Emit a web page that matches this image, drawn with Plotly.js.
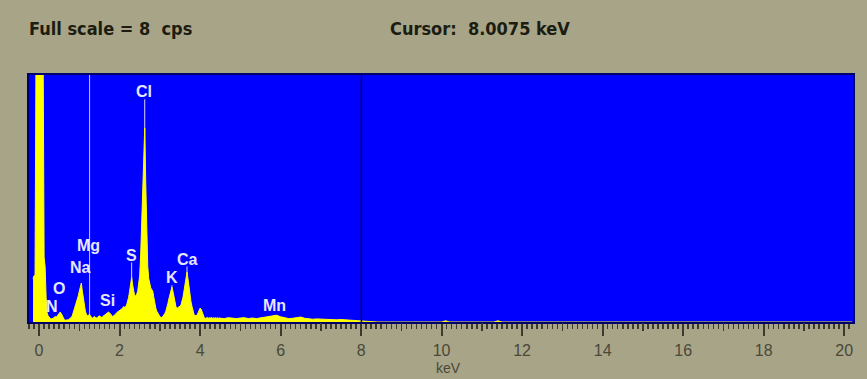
<!DOCTYPE html>
<html>
<head>
<meta charset="utf-8">
<script src="https://cdn.plot.ly/plotly-3.0.1.min.js"></script>
<style>
  html, body { margin: 0; padding: 0; background: #a7a488; }
  #chart { width: 867px; height: 379px; }
</style>
</head>
<body>
<div id="chart"></div>
<script>
// ---------------- DATA ----------------
const fullScaleCps = 8;
const cursorKeV = 8.0075;
const mgMarkerKeV = 1.255;

// fine channels: first energy and channel width (keV)
const fineStartKeV = -0.15;
const fineStepKeV = 0.025;
const fineCounts = [
  1.4, 1.5, 1.5, 9, 9, 9, 9, 9, 9, 9, 9,            // -0.150 .. 0.100
  2.1, 1.8, 0.8, 0.3, 0.2, 0.15, 0.12, 0.1, 0.1,    // 0.125 .. 0.325
  0.12, 0.15, 0.18, 0.15, 0.2, 0.25, 0.3, 0.32,     // 0.350 .. 0.525
  0.28, 0.2, 0.12, 0.08, 0.06, 0.06, 0.08, 0.07,    // 0.550 .. 0.725
  0.1, 0.12, 0.15, 0.2, 0.3, 0.4, 0.5, 0.6, 0.7,    // 0.750 .. 0.950
  0.85, 1.0, 1.2, 1.26, 1.0, 0.75, 0.5, 0.35, 0.25, // 0.975 .. 1.175
  0.2, 0.22, 0.25, 0.2, 0.15, 0.12, 0.15, 0.18,     // 1.200 .. 1.375
  0.15, 0.13, 0.15, 0.18, 0.2, 0.18, 0.15, 0.17,    // 1.400 .. 1.575
  0.2, 0.22, 0.25, 0.28, 0.3, 0.32, 0.3, 0.25,      // 1.600 .. 1.775
  0.2, 0.18, 0.2, 0.22, 0.25, 0.3, 0.32, 0.35,      // 1.800 .. 1.975
  0.38, 0.4, 0.42, 0.45, 0.5, 0.48, 0.5, 0.55,      // 2.000 .. 2.175
  0.65, 0.8, 1.0, 1.3, 1.45, 1.2, 0.95, 0.85,       // 2.200 .. 2.375
  0.85, 0.9, 1.0, 1.2, 1.5, 2.2, 3.2, 4.5,          // 2.400 .. 2.575
  5.8, 6.28, 4.5, 2.8, 1.8, 1.4, 1.2, 1.1,          // 2.600 .. 2.775
  1.05, 1.0, 0.8, 0.6, 0.45, 0.35, 0.28, 0.22,      // 2.800 .. 2.975
  0.18, 0.15, 0.15, 0.18, 0.22, 0.28, 0.35, 0.45,   // 3.000 .. 3.175
  0.6, 0.75, 0.9, 1.05, 1.13, 1.0, 0.8, 0.6,        // 3.200 .. 3.375
  0.5, 0.45, 0.45, 0.5, 0.5, 0.55, 0.65, 0.8,       // 3.400 .. 3.575
  1.0, 1.2, 1.45, 1.62, 1.4, 1.1, 0.85, 0.65,       // 3.600 .. 3.775
  0.5, 0.35, 0.25, 0.2, 0.2, 0.22, 0.3, 0.4,        // 3.800 .. 3.975
  0.45, 0.42, 0.3, 0.2, 0.15, 0.12, 0.12, 0.15,     // 4.000 .. 4.175
  0.12, 0.14, 0.12, 0.15, 0.12, 0.14, 0.12, 0.14,   // 4.200 .. 4.375
  0.12, 0.14, 0.12, 0.13                            // 4.400 .. 4.475
];

// coarse channels above 4.5 keV
const coarseKeV = [4.5, 4.6, 4.7, 4.8, 4.9, 5.0, 5.1, 5.2, 5.3, 5.4, 5.5, 5.6, 5.7, 5.8, 5.9,
  6.0, 6.1, 6.2, 6.3, 6.4, 6.5, 6.6, 6.7, 6.8, 6.9, 7.0, 7.1, 7.2, 7.3, 7.4, 7.5, 7.6,
  7.7, 7.8, 7.9, 8.0, 8.1, 8.2, 8.3, 8.4, 10.0, 10.1, 10.2, 11.3, 11.4, 11.5, 20.2];
const coarseCounts = [0.13, 0.11, 0.14, 0.12, 0.11, 0.13, 0.14, 0.11, 0.13, 0.11, 0.13, 0.14, 0.16, 0.19, 0.22,
  0.17, 0.13, 0.11, 0.12, 0.14, 0.16, 0.12, 0.1, 0.09, 0.1, 0.09, 0.08, 0.09, 0.08, 0.07, 0.08, 0.07,
  0.07, 0.06, 0.05, 0.04, 0.03, 0.02, 0.01, 0, 0, 0.04, 0, 0, 0.04, 0, 0];

// element labels
const elements   = ['N', 'O', 'Na', 'Mg', 'Si', 'S', 'Cl', 'K', 'Ca', 'Mn'];
const labelKeV   = [0.32, 0.50, 1.04, 1.22, 1.71, 2.29, 2.61, 3.30, 3.68, 5.86];
const labelCps   = [0.49, 1.10, 1.78, 2.49, 0.71, 2.17, 7.45, 1.43, 2.04, 0.52];
// elements with a marker line from label to peak
const markedElements = ['S', 'Cl', 'K', 'Ca'];
const markedPeakKeV  = [2.30, 2.625, 3.30, 3.675];

// axis ticks
const tickVals = [0, 2, 4, 6, 8, 10, 12, 14, 16, 18, 20];
const tickText = ['0', '2', '4', '6', '8', '10', '12', '14', '16', '18', '20'];

// ---------------- BUILD ----------------
const energy = [];
const counts = [];
fineCounts.forEach((c, i) => { energy.push(+(fineStartKeV + i * fineStepKeV).toFixed(4)); counts.push(c); });
coarseKeV.forEach((e, i) => { energy.push(e); counts.push(coarseCounts[i]); });

const traces = [
  {
    x: energy, y: counts, type: 'scatter', mode: 'lines',
    line: { color: '#ffff00', width: 1 },
    fill: 'tozeroy', fillcolor: '#ffff00',
    hoverinfo: 'skip', cliponaxis: true
  },
  { x: [], y: [], xaxis: 'x2', type: 'scatter', mode: 'lines', hoverinfo: 'skip' }
];

const inkColor = '#3c3a2c';
const tickFont = { family: 'Liberation Sans, Arial, sans-serif', size: 16, color: '#4a4838' };
const labelFont = { family: 'Liberation Sans, Arial, sans-serif', size: 16, color: '#e6e6ff' };
const headFont = { family: 'Liberation Sans Narrow, DejaVu Sans Condensed, sans-serif', size: 18, color: '#1c1c10' };

const annotations = elements.map((el, i) => ({
  x: labelKeV[i], y: labelCps[i], xref: 'x', yref: 'y',
  text: '<b>' + el + '</b>', showarrow: false,
  xanchor: 'center', yanchor: 'middle', font: labelFont
}));
annotations.push({
  xref: 'paper', yref: 'paper', x: -0.002, y: 1.19, xanchor: 'left', yanchor: 'middle',
  text: '<b>Full scale = ' + fullScaleCps + '&nbsp;&nbsp;cps</b>', showarrow: false, font: headFont
});
annotations.push({
  xref: 'paper', yref: 'paper', x: 0.4357, y: 1.19, xanchor: 'left', yanchor: 'middle',
  text: '<b>Cursor:&nbsp;&nbsp;' + cursorKeV.toFixed(4) + ' keV</b>', showarrow: false, font: headFont
});
annotations.push({
  xref: 'paper', yref: 'paper', x: 0.5085, y: -0.186, xanchor: 'center', yanchor: 'middle',
  text: 'keV', showarrow: false,
  font: { family: 'Liberation Sans, Arial, sans-serif', size: 14, color: '#4a4838' }
});

const shapes = [];
markedElements.forEach((el, j) => {
  const i = elements.indexOf(el);
  shapes.push({
    type: 'line', xref: 'x', yref: 'y', layer: 'below',
    x0: markedPeakKeV[j], x1: markedPeakKeV[j], y0: 0, y1: labelCps[i] - 0.24,
    line: { color: '#d8d8ff', width: 1 }
  });
});
shapes.push({
  type: 'line', xref: 'x', yref: 'paper', layer: 'below',
  x0: mgMarkerKeV, x1: mgMarkerKeV, y0: 0, y1: 1,
  line: { color: '#c8c8f0', width: 1 }
});
shapes.push({
  type: 'line', xref: 'x', yref: 'paper', layer: 'above',
  x0: cursorKeV, x1: cursorKeV, y0: 0, y1: 1,
  line: { color: '#00006e', width: 1.5 }
});

const range = [-0.25, 20.22];
const layout = {
  width: 867, height: 379,
  margin: { l: 29, r: 14, t: 75, b: 57, pad: 0 },
  paper_bgcolor: '#a7a488',
  plot_bgcolor: '#0000fe',
  showlegend: false,
  xaxis: {
    range: range, fixedrange: true, showgrid: false, zeroline: false,
    showline: true, linecolor: '#00006a', linewidth: 2, mirror: true,
    tickmode: 'array', tickvals: tickVals, ticktext: tickText,
    ticks: 'outside', ticklen: 12, tickwidth: 2, tickcolor: inkColor,
    ticklabelstandoff: 1,
    tickfont: tickFont,
    minor: { tickmode: 'linear', tick0: 0, dtick: 0.125, ticks: 'outside', ticklen: 5, tickwidth: 1.5, tickcolor: inkColor, showgrid: false }
  },
  xaxis2: {
    range: range, overlaying: 'x', anchor: 'y', side: 'bottom', fixedrange: true,
    showgrid: false, zeroline: false, showline: false, showticklabels: false,
    tickmode: 'linear', tick0: 1, dtick: 2,
    ticks: 'outside', ticklen: 8, tickwidth: 1.5, tickcolor: inkColor
  },
  yaxis: {
    range: [0, fullScaleCps], fixedrange: true, showgrid: false, zeroline: false,
    showline: true, linecolor: '#00006a', linewidth: 2, mirror: true,
    ticks: '', showticklabels: false
  },
  annotations: annotations,
  shapes: shapes
};

Plotly.newPlot('chart', traces, layout, { staticPlot: true, displayModeBar: false });
</script>
</body>
</html>
